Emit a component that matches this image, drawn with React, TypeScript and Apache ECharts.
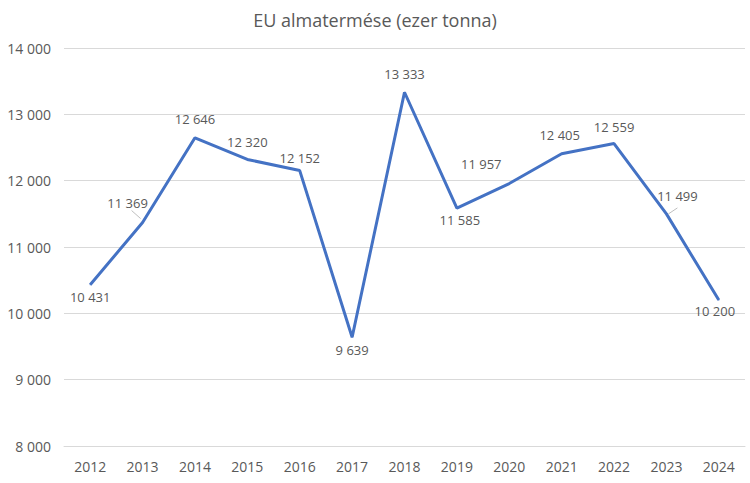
import React, { useEffect, useRef } from "react";
import * as echarts from "echarts";

const title = "EU almatermése (ezer tonna)";
const years = ["2012", "2013", "2014", "2015", "2016", "2017", "2018", "2019", "2020", "2021", "2022", "2023", "2024"];
const production = [10431, 11369, 12646, 12320, 12152, 9639, 13333, 11585, 11957, 12405, 12559, 11499, 10200];
const yMin = 8000;
const yMax = 14000;
const yStep = 1000;

// label placement (style): position, distance, extra shift [dx, dy]
const labelPos = ["bottom", "top", "top", "top", "top", "bottom", "top", "bottom", "top", "top", "top", "top", "bottom"];
const labelDist = [5, 0, 12, 10, 6, 6, 11, 5, 0, 12, 10, 0, 4];
const labelShift: number[][] = [[0, 0], [-15, -13], [0, 0], [0, 0], [0, 0], [0, 0], [0, 0], [3, 0], [-28, -13], [-2, 0], [0, 0], [11, -11], [-4, 0]];
// leader lines (style): data index, start offset, end offset relative to the point
const leaderIdx = [1, 11];
const leaderFrom: number[][] = [[-11, -12], [11, -6]];
const leaderTo: number[][] = [[-2, -4], [2, 0]];

const fmt = (v: number) => {
  const s = String(Math.round(v));
  return s.replace(/\B(?=(\d{3})+(?!\d))/g, " ");
};

const FONT = "'Open Sans', 'Liberation Sans', sans-serif";
const TXT = "#595959";

export default function App() {
  const ref = useRef<HTMLDivElement>(null);
  useEffect(() => {
    if (!ref.current) return;
    const chart = echarts.init(ref.current, undefined, { renderer: "svg" });
    chart.setOption({
      animation: false,
      backgroundColor: "#ffffff",
      title: {
        text: title,
        left: "center",
        top: 6,
        textStyle: { fontFamily: FONT, fontSize: 18, fontWeight: "normal", color: TXT },
      },
      grid: { left: 64, right: 5, top: 48, bottom: 37 },
      xAxis: {
        type: "category",
        data: years,
        boundaryGap: true,
        axisLine: { show: true, lineStyle: { color: "#d9d9d9", width: 1 } },
        axisTick: { show: false },
        axisLabel: { color: TXT, fontFamily: FONT, fontSize: 14, margin: 13 },
      },
      yAxis: {
        type: "value",
        min: yMin,
        max: yMax,
        interval: yStep,
        axisLine: { show: false },
        axisTick: { show: false },
        splitLine: { lineStyle: { color: "#d9d9d9", width: 1 } },
        axisLabel: { color: TXT, fontFamily: FONT, fontSize: 14, margin: 13, formatter: (v: number) => fmt(v) },
      },
      series: [
        {
          type: "line",
          data: production.map((v, i) => ({
            value: v,
            label: {
              position: labelPos[i],
              distance: labelDist[i],
              offset: labelShift[i],
            },
          })),
          symbol: "circle",
          symbolSize: 1,
          showSymbol: true,
          itemStyle: { color: "#4472C4" },
          lineStyle: { color: "#4472C4", width: 3 },
          label: {
            show: true,
            color: TXT,
            fontFamily: FONT,
            fontSize: 13,
            formatter: (p: any) => fmt(p.value),
          },
        },
      ],
    });
    const lines = leaderIdx.map((idx, k) => {
      const p = chart.convertToPixel({ seriesIndex: 0 }, [idx, production[idx]]) as number[];
      return {
        type: "line",
        silent: true,
        z: 5,
        shape: {
          x1: p[0] + leaderFrom[k][0],
          y1: p[1] + leaderFrom[k][1],
          x2: p[0] + leaderTo[k][0],
          y2: p[1] + leaderTo[k][1],
        },
        style: { stroke: "#bfbfbf", lineWidth: 1 },
      };
    });
    chart.setOption({ graphic: lines });
    return () => chart.dispose();
  }, []);
  return (
    <div
      ref={ref}
      style={{ position: "fixed", left: 0, top: 0, width: 750, height: 483, background: "#fff" }}
    />
  );
}
